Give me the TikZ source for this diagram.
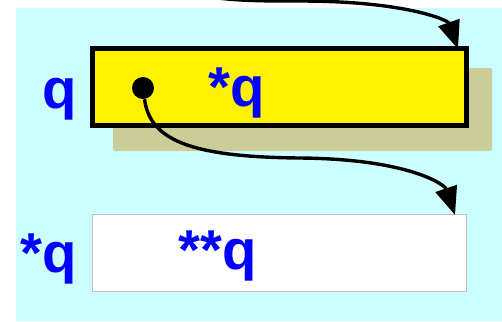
\documentclass[tikz,border=0pt]{standalone}
\usepackage{fontspec}
\setmainfont{Liberation Sans}
\usetikzlibrary{arrows.meta,calc}
\definecolor{bgcyan}{HTML}{CCFFFF}
\definecolor{shadowolive}{HTML}{CCCC99}
\definecolor{cellgray}{HTML}{C0C0C0}

\begin{document}
\begin{tikzpicture}[
  x=0.25mm, y=-0.25mm,
  cell/.style={draw,minimum width=93.5mm,minimum height=19.25mm,inner sep=0pt},
  lbl/.style={text=blue,font=\fontsize{40}{48}\selectfont\bfseries,
              anchor=base,inner sep=0pt},
  ptr/.style={-{Triangle[length=7mm,width=5.5mm]},line width=0.85mm}
]
\useasboundingbox (0,0) rectangle (502,321);
\clip (0,0) rectangle (502,321);
\fill[bgcyan] (16,8) rectangle (502,321);
\fill[shadowolive,rounded corners=0.5mm] (113,68) rectangle (492,151);
\node[cell,fill=yellow,line width=1.25mm] (qcell) at (279.5,87) {};
\node[cell,fill=white,draw=cellgray,line width=0.25mm] (pcell) at (279.5,253) {};
\node[circle,fill=black,minimum size=5.5mm,inner sep=0pt] (qdot) at (143,88) {};
\node[lbl] (qname) at (59.5,108) {q};
\node[lbl] (qval) at (237,106) {*q};
\node[lbl] (pname) at (48.5,272) {*q};
\node[lbl] (pval) at (217.5,269) {**q};
\coordinate (qsrc) at (150,-20);
\draw[ptr] (qsrc) .. controls (200,1) and (240,1) .. (300,1)
  .. controls (405,1) and (448,20) .. ($(qcell.north east)+(-11,3)$);
\draw[ptr] (qdot) .. controls (150,140) and (190,157) .. (300,158)
  .. controls (410,159) and (445,185) .. ($(pcell.north east)+(-12,1)$);
\end{tikzpicture}
\end{document}
